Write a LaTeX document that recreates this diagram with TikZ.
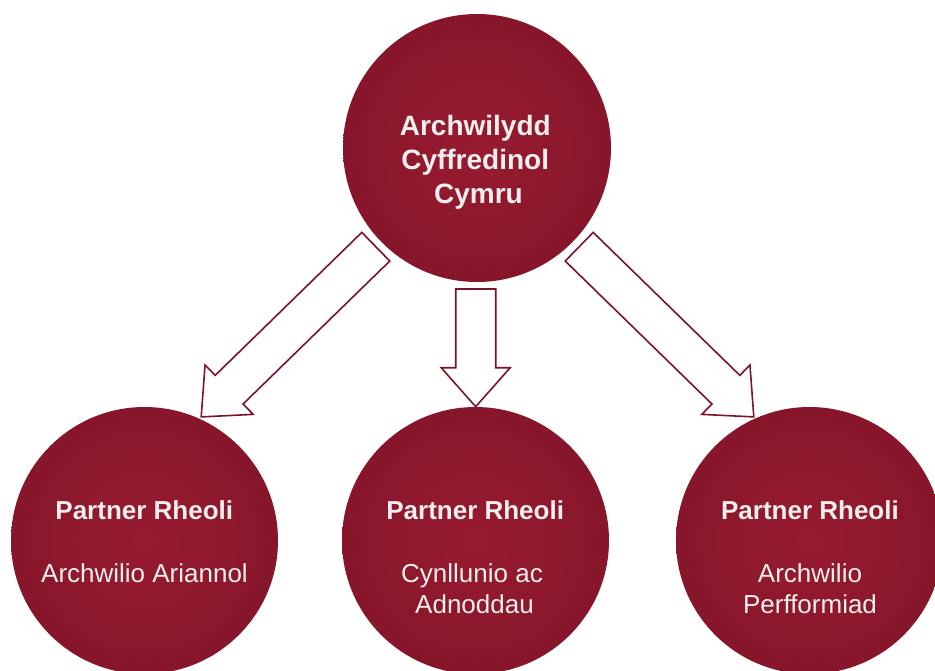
\documentclass[tikz,border=0pt]{standalone}
\usepackage{fontspec}
\setmainfont{Liberation Sans}
\usetikzlibrary{calc}
\definecolor{ballin}{RGB}{152,27,48}
\definecolor{ballout}{RGB}{118,17,36}
\definecolor{arrowred}{RGB}{122,20,40}
\definecolor{txt}{RGB}{240,238,238}
\pgfdeclareradialshading{ballsh}{\pgfpoint{0bp}{0bp}}{color(0bp)=(ballin); color(50bp)=(ballout)}
\tikzset{
  ball/.style={circle, minimum size=#1, inner sep=0pt, shading=ballsh, draw=none},
  toptxt/.style={anchor=base, text=txt, inner sep=0pt, font=\fontsize{28}{33.6}\selectfont\bfseries},
  headtxt/.style={anchor=base, text=txt, inner sep=0pt, font=\fontsize{26}{31.2}\selectfont\bfseries},
  subtxt/.style={anchor=base, text=txt, inner sep=0pt, font=\fontsize{26}{31.2}\selectfont},
  arrowline/.style={draw=arrowred, fill=white, line width=1.6pt, line join=miter}
}
\newcommand\blockarrow[2]{%
  \coordinate (#1-b) at ($(#2)!39pt!(#1)$);
  \draw[arrowline] ($(#1)!20pt!90:(#2)$) -- ($(#1-b)!20pt!90:(#2)$) -- ($(#1-b)!34.5pt!90:(#2)$) -- (#2)
     -- ($(#1-b)!34.5pt!-90:(#2)$) -- ($(#1-b)!20pt!-90:(#2)$) -- ($(#1)!20pt!-90:(#2)$) -- cycle;
}
\begin{document}
\begin{tikzpicture}[x=1pt, y=-1pt]
\useasboundingbox (0,0) rectangle (935,670);
\clip (0,0) rectangle (935,670);
% circles
\node[ball=268pt] (top) at (477,148) {};
\node[ball=267pt] (left) at (144.5,540.5) {};
\node[ball=267pt] (mid) at (475.5,540.5) {};
\node[ball=267pt] (right) at (809.5,540.5) {};
% texts
\node[toptxt] (t1) at (475.3,135) {Archwilydd};
\node[toptxt] (t2) at (475.2,169) {Cyffredinol};
\node[toptxt] (t3) at (478.5,203) {Cymru};
\node[headtxt] (l1) at (144.3,519) {Partner Rheoli};
\node[subtxt] (l2) at (144.5,582) {Archwilio Ariannol};
\node[headtxt] (m1) at (475.2,519) {Partner Rheoli};
\node[subtxt] (m2) at (472,582) {Cynllunio ac};
\node[subtxt] (m3) at (474.5,613) {Adnoddau};
\node[headtxt] (r1) at (810,519) {Partner Rheoli};
\node[subtxt] (r2) at (810,582) {Archwilio};
\node[subtxt] (r3) at (810,613) {Perfformiad};
% arrows
\coordinate (tailL) at (375.8,246.7);
\coordinate (tipL) at (201.2,416.9);
\coordinate (tailM) at (475.7,289);
\coordinate (tipM) at (475.7,406.7);
\coordinate (tailR) at (579.2,246.7);
\coordinate (tipR) at (753.8,416.9);
\blockarrow{tailL}{tipL}
\blockarrow{tailM}{tipM}
\blockarrow{tailR}{tipR}
\end{tikzpicture}
\end{document}
